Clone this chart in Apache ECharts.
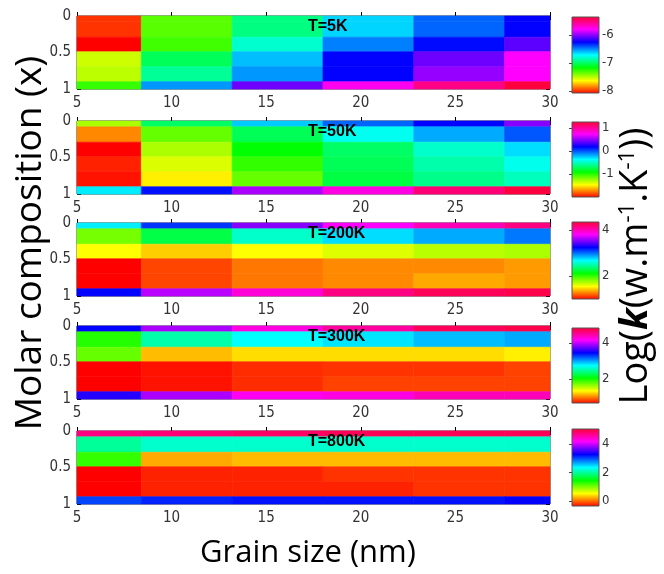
<!DOCTYPE html>
<html>
<head>
<meta charset="utf-8">
<script src="https://cdn.jsdelivr.net/npm/echarts@6/dist/echarts.min.js"></script>
<style>html,body{margin:0;padding:0;background:#fff}#c{width:664px;height:574px}</style>
</head>
<body>
<div id="c"></div>
<script>
// ---- data ----
const grainEdges = [5, 8.4, 13.2, 18.0, 22.8, 27.6, 30];          // cell boundaries (nm)
const compEdges  = [0, 0.08, 0.29, 0.49, 0.695, 0.9, 1];          // cell boundaries (x)
const xTicks = [5, 10, 15, 20, 25, 30];
const yTicks = [0, 0.5, 1];
const temps = ['T=5K', 'T=50K', 'T=200K', 'T=300K', 'T=800K'];
const cbMin = [-8.07, -2.0, 1.0, 0.67, -0.35];
const cbMax = [-5.36, 1.26, 4.35, 4.83, 5.05];
const cbTicks = [[-8, -7, -6], [-1, 0, 1], [2, 4], [2, 4], [0, 2, 4]];
// rows: top (x=0) to bottom (x=1); columns: grain size left to right
const k5K = [
  [-7.98, -7.32, -6.94, -6.64, -6.44, -6.26],
  [-7.98, -7.32, -6.94, -6.64, -6.44, -6.26],
  [-8.07, -7.28, -6.80, -6.49, -6.28, -6.10],
  [-7.53, -7.01, -6.60, -6.26, -6.07, -5.81],
  [-7.50, -6.90, -6.53, -6.26, -6.00, -5.81],
  [-7.26, -6.53, -6.07, -5.78, -5.55, -5.39]
];
const k50K = [
  [-1.28, -0.70, -0.26, -0.04, 0.17, 0.46],
  [-1.71, -1.13, -0.73, -0.40, -0.19, -0.01],
  [-2.00, -1.28, -0.91, -0.70, -0.48, -0.30],
  [-1.93, -1.38, -1.02, -0.73, -0.55, -0.41],
  [-1.96, -1.49, -1.13, -0.77, -0.62, -0.51],
  [-0.33, 0.14, 0.54, 0.79, 1.08, 1.22]
];
const k200K = [
  [2.71, 3.12, 3.53, 3.79, 3.98, 4.13],
  [1.86, 2.27, 2.56, 2.75, 2.86, 2.97],
  [1.56, 1.45, 1.56, 1.63, 1.71, 1.74],
  [1.00, 1.15, 1.26, 1.30, 1.30, 1.34],
  [1.00, 1.15, 1.26, 1.30, 1.37, 1.34],
  [3.23, 3.64, 3.90, 4.13, 4.24, 4.28]
];
const k300K = [
  [3.44, 3.91, 4.23, 4.46, 4.69, 4.74],
  [1.96, 2.52, 2.75, 2.82, 2.93, 2.98],
  [1.78, 1.18, 1.27, 1.27, 1.27, 1.32],
  [0.67, 0.72, 0.79, 0.81, 0.81, 0.85],
  [0.67, 0.72, 0.79, 0.85, 0.85, 0.85],
  [3.54, 3.91, 4.18, 4.23, 4.37, 4.37]
];
const k800K = [
  [4.69, 4.75, 4.81, 4.87, 4.87, 4.87],
  [1.99, 2.17, 2.17, 2.17, 2.17, 2.17],
  [1.27, 0.25, 0.31, 0.31, 0.31, 0.31],
  [-0.35, -0.23, -0.23, -0.17, -0.17, -0.17],
  [-0.35, -0.23, -0.23, -0.23, -0.17, -0.17],
  [3.01, 3.13, 3.19, 3.19, 3.19, 3.25]
];
const panels = [k5K, k50K, k200K, k300K, k800K];

// ---- style/layout ----
const hsv = ['#ff0000', '#ffff00', '#00ff00', '#00ffff', '#0000ff', '#ff00ff', '#ff0030'];
const narrow = "'Liberation Sans Narrow','DejaVu Sans Condensed','Arial Narrow',sans-serif";
const gridTops = [16, 121, 223, 326, 431];
const gridH = 73;
const cbTops = [17, 122, 222, 328, 429];
const cbH = [76, 75, 77, 75, 77];

const grid = [], xAxis = [], yAxis = [], series = [], visualMap = [], title = [];
const tickStyle = { show: true, inside: true, length: 4, lineStyle: { color: '#000', width: 1 } };

panels.forEach((m, i) => {
  grid.push({ left: 77, width: 473, top: gridTops[i], height: gridH, show: true,
              borderColor: '#333', borderWidth: 1, backgroundColor: 'transparent' });
});
panels.forEach((m, i) => {
  grid.push({ left: 572, width: 27, top: cbTops[i], height: cbH[i] });
});

panels.forEach((m, i) => {
  xAxis.push({ type: 'value', gridIndex: i, position: 'bottom', min: 5, max: 30, interval: 5,
    axisLine: { show: false }, splitLine: { show: false }, axisTick: tickStyle,
    axisLabel: { show: true, margin: 7, fontSize: 15, fontFamily: narrow, color: '#333',
                 customValues: xTicks } });
  xAxis.push({ type: 'value', gridIndex: i, position: 'top', min: 5, max: 30, interval: 5,
    axisLine: { show: false }, splitLine: { show: false }, axisTick: tickStyle,
    axisLabel: { show: false } });
  yAxis.push({ type: 'value', gridIndex: i, position: 'left', inverse: true, min: 0, max: 1, interval: 0.5,
    axisLine: { show: false }, splitLine: { show: false }, axisTick: tickStyle,
    axisLabel: { show: true, margin: 6, fontSize: 15, fontFamily: narrow, color: '#333',
                 customValues: yTicks } });
  yAxis.push({ type: 'value', gridIndex: i, position: 'right', inverse: true, min: 0, max: 1, interval: 0.5,
    axisLine: { show: false }, splitLine: { show: false }, axisTick: tickStyle,
    axisLabel: { show: false } });
});
panels.forEach((m, i) => {
  xAxis.push({ type: 'value', gridIndex: 5 + i, min: 0, max: 1, show: false });
  yAxis.push({ type: 'value', gridIndex: 5 + i, position: 'right', min: cbMin[i], max: cbMax[i],
    axisLine: { show: false }, splitLine: { show: false },
    axisTick: { show: true, inside: true, length: 3, lineStyle: { color: '#444' }, customValues: cbTicks[i] },
    axisLabel: { show: true, margin: 3, fontSize: 13, fontFamily: narrow, color: '#333',
                 customValues: cbTicks[i] } });
});

panels.forEach((m, i) => {
  const data = [];
  for (let r = 0; r < m.length; r++) {
    for (let c = 0; c < m[r].length; c++) {
      data.push([grainEdges[c], grainEdges[c + 1], compEdges[r], compEdges[r + 1], m[r][c]]);
    }
  }
  series.push({
    type: 'custom', xAxisIndex: 2 * i, yAxisIndex: 2 * i, data: data,
    encode: { x: [0, 1], y: [2, 3] },
    renderItem: function (params, api) {
      const p0 = api.coord([api.value(0), api.value(2)]);
      const p1 = api.coord([api.value(1), api.value(3)]);
      const col = api.visual('color');
      return { type: 'rect',
        shape: { x: Math.min(p0[0], p1[0]), y: Math.min(p0[1], p1[1]),
                 width: Math.abs(p1[0] - p0[0]), height: Math.abs(p1[1] - p0[1]) },
        style: { fill: col, stroke: col, lineWidth: 0.6 } };
    }
  });
  visualMap.push({ type: 'continuous', show: false, seriesIndex: i, dimension: 4,
    min: cbMin[i], max: cbMax[i], inRange: { color: hsv } });
  title.push({ text: temps[i], left: 308, top: gridTops[i] + 3, padding: 0,
    textStyle: { fontSize: 16, fontWeight: 'bold', fontFamily: "'Liberation Sans',Arial,sans-serif", color: '#000' } });
});
panels.forEach((m, i) => {
  series.push({
    type: 'custom', xAxisIndex: 10 + i, yAxisIndex: 10 + i,
    data: [[0, 1, cbMin[i], cbMax[i]]], encode: { x: [0, 1], y: [2, 3] }, silent: true,
    renderItem: function (params, api) {
      const p0 = api.coord([api.value(0), api.value(2)]);
      const p1 = api.coord([api.value(1), api.value(3)]);
      const stops = hsv.map((c, k) => ({ offset: k / (hsv.length - 1), color: c }));
      return { type: 'rect',
        shape: { x: Math.min(p0[0], p1[0]), y: Math.min(p0[1], p1[1]),
                 width: Math.abs(p1[0] - p0[0]), height: Math.abs(p1[1] - p0[1]) },
        style: { fill: { type: 'linear', x: 0, y: 1, x2: 0, y2: 0, colorStops: stops },
                 stroke: '#555', lineWidth: 1 } };
    }
  });
});

const labelFont = "'Open Sans','Noto Sans',sans-serif";
const graphic = [
  { type: 'text', x: 308, y: 553, style: { text: 'Grain size (nm)', fontSize: 31, fontFamily: labelFont,
      fill: '#000', textAlign: 'center', textVerticalAlign: 'middle' } },
  { type: 'text', x: 30, y: 243, rotation: Math.PI / 2,
    style: { text: 'Molar composition (x)', fontSize: 37, fontFamily: labelFont,
      fill: '#000', textAlign: 'center', textVerticalAlign: 'middle' } },
  { type: 'text', x: 636, y: 266, rotation: Math.PI / 2,
    style: { text: 'Log({k|k}(w.m{s|-1}.K{s|-1}))', fontSize: 38, fontFamily: labelFont,
      fill: '#000', textAlign: 'center', textVerticalAlign: 'middle',
      rich: { k: { fontSize: 38, fontWeight: 'bold', fontStyle: 'italic', fontFamily: labelFont, fill: '#000' },
              s: { fontSize: 22, verticalAlign: 'top', fontFamily: labelFont, fill: '#000' } } } }
];

const chart = echarts.init(document.getElementById('c'), null, { renderer: 'canvas' });
chart.setOption({ backgroundColor: '#fff', animation: false, grid, xAxis, yAxis, series, visualMap, title, graphic });
</script>
</body>
</html>
